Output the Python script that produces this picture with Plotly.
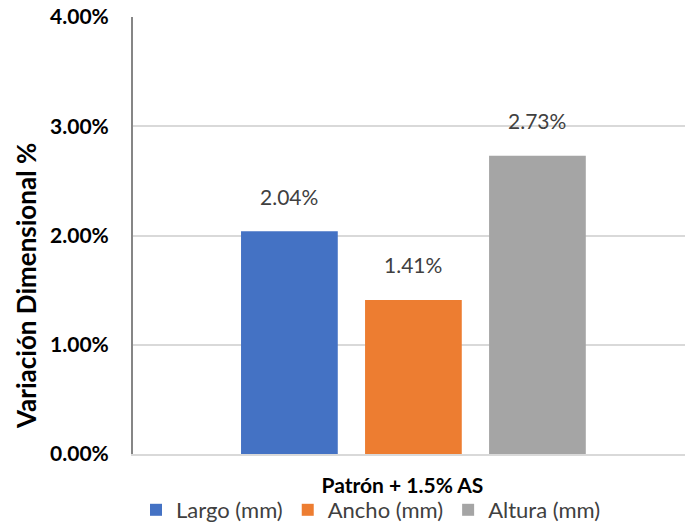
import plotly.graph_objects as go

# Dimensional variation for the sample with 1.5% AS
category = ["Patrón + 1.5% AS"]
series_names = ["Largo (mm)", "Ancho (mm)", "Altura (mm)"]
series_values = [0.0204, 0.0141, 0.0273]
series_colors = ["#4472C4", "#ED7D31", "#A5A5A5"]
y_ticks = [0.0, 0.01, 0.02, 0.03, 0.04]

W, H = 685, 524
M_L, M_R, M_T, M_B = 133, 0, 17, 70
BARGAP = 0.326
plot_w = W - M_L - M_R
plot_h = H - M_T - M_B
slot_px = plot_w * (1 - BARGAP) / len(series_names)

FONT = "Lato, Carlito, Calibri, sans-serif"

fig = go.Figure()
for name, val, col in zip(series_names, series_values, series_colors):
    fig.add_trace(go.Bar(
        x=category, y=[val], name=name,
        marker=dict(color=col, line=dict(width=0)),
    ))

# value labels above each bar
for i, val in enumerate(series_values):
    fig.add_annotation(
        x=category[0], y=val, xref="x", yref="y",
        text=f"{val:.2%}", showarrow=False,
        xshift=(i - (len(series_values) - 1) / 2) * slot_px,
        yshift=35, yanchor="middle",
        font=dict(family=FONT, size=21, color="#404040"),
    )

# rotated axis title
fig.add_annotation(
    xref="x domain", yref="y domain",
    x=(26 - M_L) / plot_w, y=(H - M_B - 286) / plot_h,
    xanchor="center", yanchor="middle",
    text="<b>Variación Dimensional %</b>", textangle=-90, showarrow=False,
    font=dict(family=FONT, size=26, color="#000000"),
)

fig.update_layout(
    width=W, height=H,
    margin=dict(l=M_L, r=M_R, t=M_T, b=M_B, autoexpand=False),
    paper_bgcolor="white", plot_bgcolor="white",
    barmode="group", bargap=BARGAP, bargroupgap=0.22,
    showlegend=True,
    legend=dict(
        orientation="h", xref="container", yref="container",
        x=136 / W, y=(H - 510) / H,
        xanchor="left", yanchor="middle",
        bgcolor="rgba(0,0,0,0)",
        font=dict(family=FONT, size=22, color="#404040"),
        itemsizing="constant", traceorder="normal",
    ),
    xaxis=dict(
        range=[-0.508, 0.492], showgrid=False, showline=True,
        linecolor="#D9D9D9", linewidth=2, ticks="", automargin=False,
        tickfont=dict(family=FONT, size=21, color="#000000", weight="bold"),
        ticklabelstandoff=12, ticklabelshift=-11,
    ),
    yaxis=dict(
        range=[0, 0.04], tickvals=y_ticks, tickformat=".2%",
        showgrid=True, gridcolor="#D9D9D9", gridwidth=2,
        showline=True, linecolor="#868686", linewidth=2,
        zeroline=False, ticks="", automargin=False,
        tickfont=dict(family=FONT, size=21, color="#000000", weight="bold"),
        ticklabelstandoff=18,
    ),
)

fig.write_html("out.html")
